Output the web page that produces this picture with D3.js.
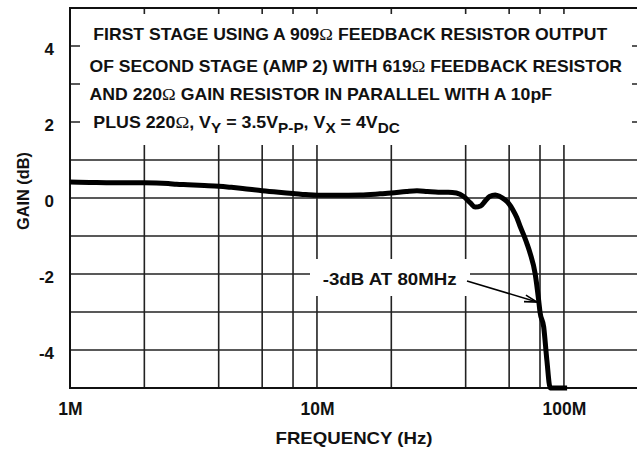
<!DOCTYPE html>
<html><head><meta charset="utf-8">
<script src="https://cdn.jsdelivr.net/npm/d3@7"></script>
<style>
body{margin:0;background:#fff}
svg{display:block}
text{font-family:"Liberation Sans",Arial,Helvetica,sans-serif;font-weight:bold;fill:#111}
</style>
</head><body>
<svg id="c" width="637" height="451"></svg>
<script>
// ---- data ----
const freqMHz = [1, 1.2, 1.5, 2, 2.5, 2.7, 3, 3.5, 4, 4.5, 5, 6, 7, 8, 9, 10, 12, 15, 18, 20, 23, 25.4, 28, 31, 34, 36.7, 39.4, 41.8, 43.7, 46, 48, 50, 52.7, 55, 57.5, 59.7, 62, 64.5, 66.5, 68.7, 71, 73, 76.5, 79, 80, 82.8, 85.3, 88, 103];
const gainDb  = [0.42, 0.41, 0.40, 0.40, 0.38, 0.36, 0.35, 0.33, 0.31, 0.28, 0.25, 0.19, 0.15, 0.12, 0.09, 0.07, 0.07, 0.08, 0.11, 0.13, 0.17, 0.19, 0.17, 0.15, 0.15, 0.13, 0.03, -0.13, -0.24, -0.21, -0.08, 0.04, 0.08, 0.04, -0.04, -0.14, -0.30, -0.52, -0.75, -0.97, -1.22, -1.46, -2.0, -2.69, -3.0, -3.39, -4.27, -5.0, -5.0];

const yTicks = [4, 2, 0, -2, -4];
const yTickLabels = ["4", "2", "0", "-2", "-4"];
const yGridValues = [4, 3, 2, 1, 0, -1, -2, -3, -4];
const xTicks = [1e6, 1e7, 1e8];
const xTickLabels = ["1M", "10M", "100M"];
const xGridMHz = [2, 4, 6, 8, 10, 20, 40, 60, 80, 100];
const xDomain = [1e6, 2.09e8];
const yDomain = [-5, 5];

const xTitle = "FREQUENCY (Hz)";
const yTitle = "GAIN (dB)";
const annotation = "-3dB AT 80MHz";
const annotationFreqMHz = 80;
const annotationGain = -3;

// ---- layout ----
const svg = d3.select("#c");
const L = 70, R = 643, T = 8, B = 388;
const x = d3.scaleLog().domain(xDomain).range([L, R]);
const y = d3.scaleLinear().domain(yDomain).range([B, T]);
const gridColor = "#222";

// grid
svg.append("g").selectAll("line").data(yGridValues).join("line")
  .attr("x1", L).attr("x2", R).attr("y1", d => y(d)).attr("y2", d => y(d))
  .attr("stroke", gridColor).attr("stroke-width", 1.6);
svg.append("g").selectAll("line").data(xGridMHz).join("line")
  .attr("x1", d => x(d * 1e6)).attr("x2", d => x(d * 1e6)).attr("y1", T).attr("y2", B)
  .attr("stroke", gridColor).attr("stroke-width", 1.6);

// white masks behind text
svg.append("rect").attr("x", 80).attr("y", 14).attr("width", 552).attr("height", 131).attr("fill", "#fff");
svg.append("rect").attr("x", 310).attr("y", 259).attr("width", 160).attr("height", 37).attr("fill", "#fff");

// frame
svg.append("path")
  .attr("d", `M${R},${T}H${L}V${B}H${R}`)
  .attr("fill", "none").attr("stroke", "#111").attr("stroke-width", 2);

// curve
const pts = freqMHz.map((f, i) => [f * 1e6, gainDb[i]]);
svg.append("path").datum(pts)
  .attr("d", d3.line().x(d => x(d[0])).y(d => y(d[1])).curve(d3.curveMonotoneX))
  .attr("fill", "none").attr("stroke", "#000").attr("stroke-width", 5)
  .attr("stroke-linejoin", "round");

// axes labels
const ya = svg.append("g").attr("transform", `translate(${L},0)`)
  .call(d3.axisLeft(y).tickValues(yTicks).tickFormat((d, i) => yTickLabels[i]).tickSize(0).tickPadding(16));
ya.select(".domain").remove();
ya.selectAll("text").attr("dy", "0.52em").style("font-size", "17px").style("font-family", "Liberation Sans, Arial, sans-serif").style("font-weight", "bold");

const xa = svg.append("g").attr("transform", `translate(0,${B})`)
  .call(d3.axisBottom(x).tickValues(xTicks).tickFormat((d, i) => xTickLabels[i]).tickSize(0).tickPadding(15));
xa.select(".domain").remove();
xa.selectAll("text").style("font-size", "17.5px").style("font-family", "Liberation Sans, Arial, sans-serif").style("font-weight", "bold");

// titles
svg.append("text").attr("x", 354).attr("y", 444).attr("text-anchor", "middle")
  .style("font-size", "17px").attr("textLength", 157).attr("lengthAdjust", "spacingAndGlyphs").text(xTitle);
svg.append("text").attr("transform", "translate(28.5,191) rotate(-90)").attr("text-anchor", "middle")
  .style("font-size", "16px").attr("textLength", 78).attr("lengthAdjust", "spacingAndGlyphs").text(yTitle);

// note block
const OM = "\u03A9";
function addLine(xx, yy, len, parts) {
  const t = svg.append("text").attr("x", xx).attr("y", yy).style("font-size", "16.3px")
    .attr("textLength", len).attr("lengthAdjust", "spacingAndGlyphs");
  parts.forEach(p => {
    const s = t.append("tspan").text(p.t);
    if (p.om) s.style("font-family", "Liberation Serif, Times New Roman, serif").style("font-weight", "normal").style("font-size", "17px");
    if (p.sub) s.attr("dy", p.sub).style("font-size", "14px");
    if (p.up) s.attr("dy", p.up);
  });
}
addLine(93.3, 40, 514, [{t: "FIRST STAGE USING A 909"}, {t: OM, om: 1}, {t: " FEEDBACK RESISTOR OUTPUT"}]);
addLine(89.5, 71.7, 532.5, [{t: "OF SECOND STAGE (AMP 2) WITH 619"}, {t: OM, om: 1}, {t: " FEEDBACK RESISTOR"}]);
addLine(89.5, 100, 462.5, [{t: "AND 220"}, {t: OM, om: 1}, {t: " GAIN RESISTOR IN PARALLEL WITH A 10pF"}]);
addLine(93.3, 128.3, 306.5, [{t: "PLUS 220"}, {t: OM, om: 1}, {t: ", V"}, {t: "Y", sub: 5}, {t: " = 3.5V", up: -5},
  {t: "P-P", sub: 5}, {t: ", V", up: -5}, {t: "X", sub: 5}, {t: " = 4V", up: -5}, {t: "DC", sub: 5}]);

// annotation
svg.append("text").attr("x", 322.7).attr("y", 285).style("font-size", "16.3px")
  .attr("textLength", 134).attr("lengthAdjust", "spacingAndGlyphs").text(annotation);
const ax0 = 467, ay0 = 281;
const ax1 = x(annotationFreqMHz * 1e6) - 3, ay1 = y(annotationGain) - 10;
svg.append("line").attr("x1", ax0).attr("y1", ay0).attr("x2", ax1).attr("y2", ay1)
  .attr("stroke", "#000").attr("stroke-width", 1.5);
const ang = Math.atan2(ay1 - ay0, ax1 - ax0), hl = 13, hw = 0.26;
svg.append("path")
  .attr("d", `M${ax1 - hl * Math.cos(ang - hw)},${ay1 - hl * Math.sin(ang - hw)}L${ax1},${ay1}L${ax1 - hl * Math.cos(ang + hw)},${ay1 - hl * Math.sin(ang + hw)}`)
  .attr("fill", "none").attr("stroke", "#000").attr("stroke-width", 1.6);
</script>
</body></html>
